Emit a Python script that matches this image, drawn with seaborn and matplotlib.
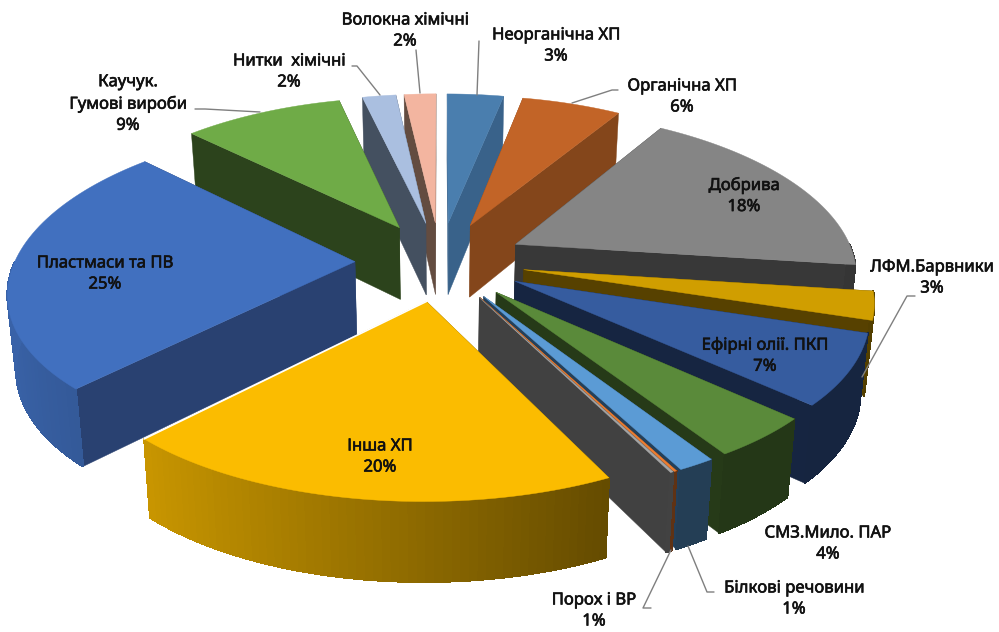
import matplotlib
matplotlib.use("Agg")
import matplotlib.pyplot as plt
import matplotlib.patheffects as pe
import numpy as np
import seaborn as sns
from matplotlib.collections import PolyCollection

# shares of the pie (clockwise from 12 o'clock), unlabelled grey sliver included
names = ['Неорганічна ХП', 'Органічна ХП', 'Добрива', 'ЛФМ.Барвники', 'Ефірні олії. ПКП',
         'СМЗ.Мило. ПАР', 'Білкові речовини', 'Порох і ВР', '', 'Інша ХП',
         'Пластмаси та ПВ', 'Каучук.\nГумові вироби', 'Нитки  хімічні', 'Волокна хімічні']
values = [3.2, 5.6, 18.2, 2.8, 7.0, 4.1, 1.45, 0.12, 0.12, 19.4, 25.0, 9.0, 1.9, 1.8]
pct_labels = ['3%', '6%', '18%', '3%', '7%', '4%', '1%', '1%', '', '20%', '25%', '9%', '2%', '2%']
top_colors = ['#4a7eae', '#c26427', '#858585', '#d09e00', '#365c9f', '#5a8a3a', '#5b9bd5',
              '#ed7d31', '#a5a5a5', '#fbbc00', '#4170bf', '#6fab47', '#aabfe0', '#f3b5a0']
side_colors = ['#39628a', '#84461b', '#383838', '#574100', '#162541', '#263a18', '#24405a',
               '#6b3a17', '#414141', '#654b00', '#294171', '#2c431c', '#445060', '#634c40']

# label centres and leader lines, in pixels of the 999x632 picture
label_xy = [(556, 46), (682, 97), (744, 196), (932, 278), (765, 356), (828, 544), (794, 599),
            (594, 611), None, (380, 457), (105, 274), (128, 104), (289, 72), (405, 31)]
leaders = [[(479, 41), (477, 95)],
           [(618, 90), (612, 90), (572, 103)],
           [(915, 296), (907, 296), (862, 377)],
           [(714, 592), (707, 592), (688, 546)],
           [(651, 608), (643, 608), (671, 550)],
           [(195, 109), (205, 109), (260, 112)],
           [(352, 66), (357, 66), (380, 95)],
           [(416, 50), (420, 93)]]

# pie geometry
cx, cy = 440, 261
radius = 340
squash = 158
persp = 0.145
persp_x = 0.165
depth = 73
explode = 0.25


def project(x, y, bottom=False):
    # disc coords -> picture pixels, y up = back of the pie
    px = cx + radius * x / (1 + persp_x * y)
    py = cy - squash * y / (1 + persp * y)
    if bottom:
        px = cx + (px - cx) * 0.98
        py = py + depth - 6 * y
    return px, py


def shade(theta):
    return np.interp(np.sin(theta), [-1, -0.7, 0.44, 1], [0.88, 0.8, 0.4, 0.4])


sns.set_theme(style="white")
plt.rcParams['font.family'] = ['Noto Sans', 'DejaVu Sans']

f, ax = plt.subplots(figsize=(9.99, 6.32), dpi=100)
ax.set_position([0, 0, 1, 1])
ax.set_xlim(0, 999)
ax.set_ylim(632, 0)
ax.axis('off')

shares = np.array(values) / np.sum(values) * 2 * np.pi
ends = np.cumsum(shares)
starts = ends - shares
mids = (starts + ends) / 2

# back to front
for i in np.argsort(-np.cos(mids)):
    t = np.linspace(starts[i], ends[i], 60)
    ox = explode * np.sin(mids[i])
    oy = explode * np.cos(mids[i])
    arc_x = ox + np.sin(t)
    arc_y = oy + np.cos(t)
    ax_t, ay_t = project(arc_x, arc_y)
    ax_b, ay_b = project(arc_x, arc_y, bottom=True)
    apex_t = project(ox, oy)
    apex_b = project(ox, oy, bottom=True)

    # the two cut faces
    for k in (0, -1):
        ax.fill([apex_t[0], ax_t[k], ax_b[k], apex_b[0]],
                [apex_t[1], ay_t[k], ay_b[k], apex_b[1]],
                color=side_colors[i], lw=0.3, zorder=2)

    # outer wall, only the part turned to the viewer, strip by strip for the shading
    rgb = np.array(matplotlib.colors.to_rgb(top_colors[i]))
    quads = []
    cols = []
    for j in range(len(t) - 1):
        tm = (t[j] + t[j + 1]) / 2
        if np.cos(tm) > 0:
            continue
        quads.append([(ax_t[j], ay_t[j]), (ax_t[j + 1], ay_t[j + 1]),
                      (ax_b[j + 1], ay_b[j + 1]), (ax_b[j], ay_b[j])])
        cols.append(tuple(rgb * shade(tm)))
    if quads:
        ax.add_collection(PolyCollection(quads, facecolors=cols, edgecolors=cols, linewidths=0.7,
                                         antialiaseds=False, zorder=2))

    ax.fill(np.r_[apex_t[0], ax_t], np.r_[apex_t[1], ay_t], color=top_colors[i], lw=0.3, zorder=2)
    if names[i] == 'Інша ХП':
        ax.plot([apex_t[0], ax_t[-1]], [apex_t[1], ay_t[-1]], color='white', lw=1.2, zorder=2)

for line in leaders:
    xs, ys = zip(*line)
    ax.plot(xs, ys, color='#7f7f7f', lw=1, zorder=3)

for name, pct, xy in zip(names, pct_labels, label_xy):
    if xy is None:
        continue
    txt = ax.text(xy[0], xy[1], name + '\n' + pct, ha='center', va='center', fontsize=12,
                  color='#111111', linespacing=1.42, zorder=4)
    # no semibold face installed, thicken the regular one a little
    txt.set_path_effects([pe.withStroke(linewidth=0.45, foreground='#111111')])

f.savefig('out.png', dpi=100)
